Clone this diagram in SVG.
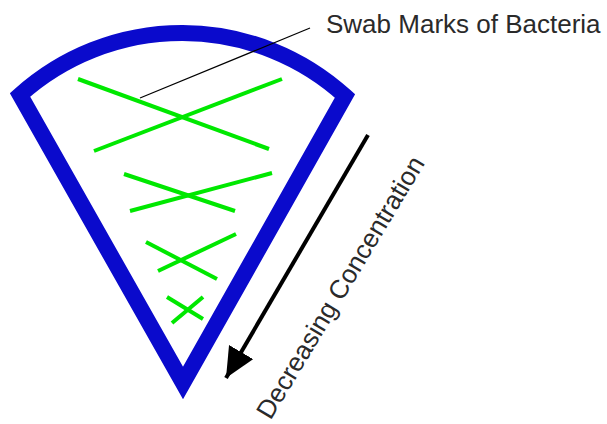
<svg xmlns="http://www.w3.org/2000/svg" width="607" height="424" viewBox="0 0 607 424">
<style>
.wedge{fill:none;stroke:#0a0acc;stroke-width:16;stroke-linejoin:miter;stroke-miterlimit:10}
.swab{stroke:#00e800;stroke-width:4;stroke-linecap:butt}
.lbl{font-family:"Liberation Sans",Arial,sans-serif;font-size:26px;fill:#2a2a2a}
</style>
<defs>
<marker id="ah" markerUnits="userSpaceOnUse" markerWidth="32" markerHeight="30" refX="30" refY="14" orient="auto">
<path d="M0,0 L30,14 L0,28 z" fill="#000"/>
</marker>
</defs>
<rect width="607" height="424" fill="#fff"/>
<g id="plate">
<path class="wedge" d="M20,95 A242.5,242.5 0 0 1 345,96 L183,383 Z"/>
</g>
<g id="swabs">
<line class="swab" x1="78" y1="79" x2="269" y2="149"/>
<line class="swab" x1="94" y1="151" x2="282" y2="79"/>
<line class="swab" x1="124" y1="174" x2="235" y2="211"/>
<line class="swab" x1="130" y1="211" x2="272" y2="173"/>
<line class="swab" x1="146" y1="242" x2="217" y2="279"/>
<line class="swab" x1="158" y1="271" x2="236" y2="234"/>
<line class="swab" x1="167" y1="297" x2="203" y2="319"/>
<line class="swab" x1="172" y1="323" x2="203" y2="297"/>
</g>
<g id="connectors">
<line x1="140" y1="98" x2="310" y2="28" stroke="#000" stroke-width="1.2"/>
<line x1="368" y1="135" x2="226" y2="378" stroke="#000" stroke-width="4" marker-end="url(#ah)"/>
</g>
<g id="label-swab">
<text class="lbl" x="326" y="33">Swab Marks of Bacteria</text>
</g>
<g id="label-conc">
<text class="lbl" text-anchor="middle" transform="translate(348,292) rotate(-59)">Decreasing Concentration</text>
</g>
</svg>
